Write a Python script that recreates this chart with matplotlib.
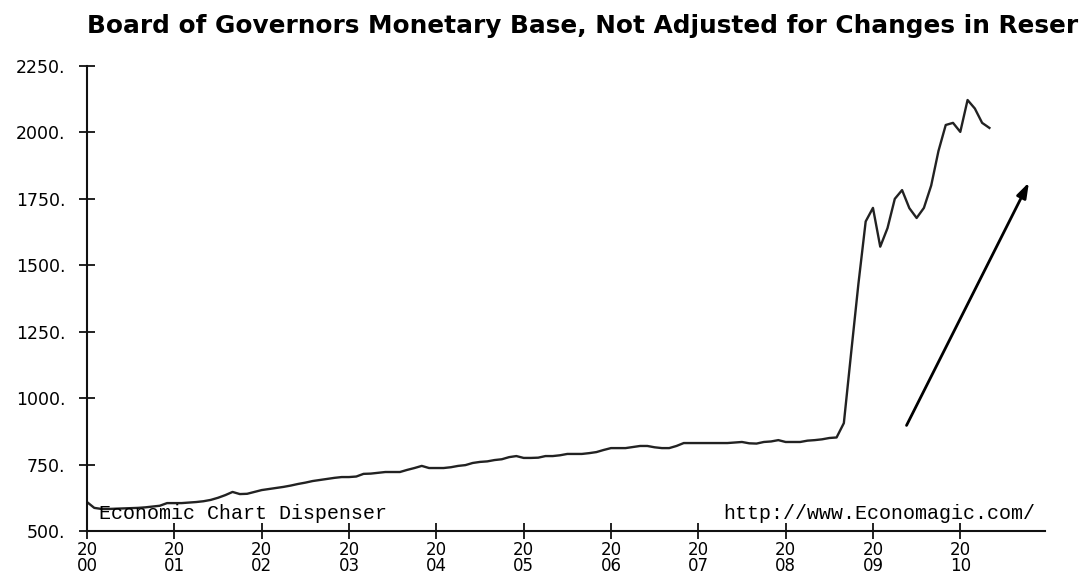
import matplotlib
matplotlib.use("Agg")
import matplotlib.pyplot as plt
import numpy as np

# Monthly values, Jan 2000 .. May 2010 (billions of dollars)
start_year = 2000
values = [
    # 2000
    609, 587, 583, 583, 584, 585, 586, 587, 589, 592, 595, 605,
    # 2001
    605, 605, 607, 609, 612, 617, 625, 635, 647, 639, 640, 647,
    # 2002
    654, 658, 662, 666, 671, 677, 682, 688, 692, 696, 700, 703,
    # 2003
    703, 705, 715, 716, 719, 722, 722, 722, 730, 737, 745, 737,
    # 2004
    737, 737, 740, 745, 748, 756, 760, 762, 767, 770, 778, 782,
    # 2005
    775, 775, 776, 782, 782, 785, 790, 790, 790, 793, 797, 805,
    # 2006
    812, 812, 812, 816, 820, 820, 815, 812, 812, 820, 831, 831,
    # 2007
    831, 831, 831, 831, 831, 833, 835, 830, 829, 835, 837, 842,
    # 2008
    835, 835, 835, 840, 842, 845, 850, 852, 906, 1170, 1430, 1665,
    # 2009
    1716, 1570, 1640, 1750, 1783, 1715, 1678, 1716, 1800, 1930, 2028, 2036,
    # 2010
    2002, 2122, 2090, 2036, 2017,
]
ytick_vals = [500, 750, 1000, 1250, 1500, 1750, 2000, 2250]
xtick_years = list(range(2000, 2011))
title = "Board of Governors Monetary Base, Not Adjusted for Changes in Reser"
left_note = "Economic Chart Dispenser"
right_note = "http://www.Economagic.com/"

t = start_year + np.arange(len(values)) / 12.0

fig = plt.figure(figsize=(10.79, 5.77), dpi=100)
ax = fig.add_axes([87/1079, 1 - 531/577, (1045-87)/1079, (531-66)/577])

ax.plot(t, values, color="#222222", lw=1.7, solid_joinstyle="round")

ax.set_xlim(2000, 2010.97)
ax.set_ylim(500, 2250)
for s in ["top", "right"]:
    ax.spines[s].set_visible(False)
for s in ["left", "bottom"]:
    ax.spines[s].set_linewidth(1.5)
    ax.spines[s].set_color("#111111")

ax.set_yticks(ytick_vals)
ax.set_yticklabels([f"{v}." for v in ytick_vals], fontfamily="DejaVu Sans", fontsize=12.5)
ax.set_xticks(xtick_years)
ax.set_xticklabels([f"{str(y)[:2]}\n{str(y)[2:]}" for y in xtick_years],
                   fontfamily="DejaVu Sans", fontsize=12, linespacing=0.8)
ax.tick_params(axis="both", direction="inout", length=11, width=1.3, color="#111111")
ax.tick_params(axis="y", pad=10)
ax.tick_params(axis="x", pad=2)

fig.text(87/1079, 1 - 33/577, title, ha="left", va="baseline",
         fontfamily="DejaVu Sans", fontweight="bold", fontsize=17.8)

ax.text(0.013, 0.025, left_note, transform=ax.transAxes,
        ha="left", va="baseline", fontfamily="Liberation Mono", fontsize=14.4)
ax.text(0.9895, 0.025, right_note, transform=ax.transAxes,
        ha="right", va="baseline", fontfamily="Liberation Mono", fontsize=14.4)

ax.annotate("", xy=(2010.80, 1821), xytext=(2009.37, 888),
            arrowprops=dict(arrowstyle="-|>,head_length=0.9,head_width=0.3",
                            color="black", lw=2))

fig.savefig("out.png", dpi=100)
